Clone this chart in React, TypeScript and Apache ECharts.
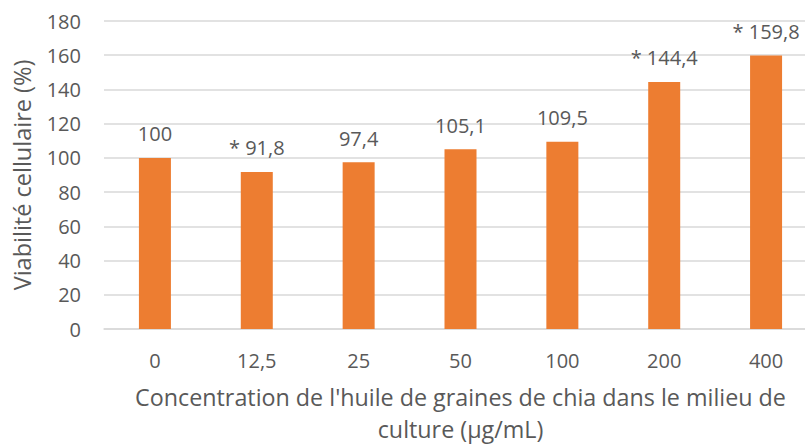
import React, { useEffect, useRef } from "react";
import * as echarts from "echarts";

const categories = ["0", "12,5", "25", "50", "100", "200", "400"];
const viability = [100, 91.8, 97.4, 105.1, 109.5, 144.4, 159.8];
const significant = [false, true, false, false, false, true, true];
const yTicks = { min: 0, max: 180, interval: 20 };
const xTitle = "Concentration de l'huile de graines de chia dans le milieu de\nculture (µg/mL)";
const yTitle = "Viabilité cellulaire (%)";

const FONT = "'Open Sans', sans-serif";
const TXT = "#595959";

export default function App() {
  const ref = useRef<HTMLDivElement>(null);
  useEffect(() => {
    if (!ref.current) return;
    document.body.style.margin = "0";
    document.body.style.overflow = "hidden";
    const chart = echarts.init(ref.current, undefined, { renderer: "svg" });
    chart.setOption({
      animation: false,
      backgroundColor: "#ffffff",
      grid: {
        left: 104,
        right: -12,
        top: 21,
        bottom: 116,
        containLabel: false,
        outerBoundsMode: "none",
      },
      xAxis: {
        type: "category",
        data: categories,
        axisLine: { show: true, lineStyle: { color: "#D9D9D9", width: 1.5 } },
        axisTick: { show: false },
        axisLabel: { color: TXT, fontFamily: FONT, fontSize: 20, margin: 21 },
        name: xTitle,
        nameLocation: "middle",
        nameGap: 52,
        nameTextStyle: { color: TXT, fontFamily: FONT, fontSize: 23.3, lineHeight: 32, align: "center" },
      },
      yAxis: {
        type: "value",
        min: yTicks.min,
        max: yTicks.max,
        interval: yTicks.interval,
        axisLine: { show: false },
        axisTick: { show: false },
        splitLine: { lineStyle: { color: "#D9D9D9", width: 1.5 } },
        axisLabel: { color: TXT, fontFamily: FONT, fontSize: 20, margin: 23 },
        name: yTitle,
        nameLocation: "middle",
        nameGap: 70,
        nameTextStyle: { color: TXT, fontFamily: FONT, fontSize: 23.5 },
      },
      series: [
        {
          type: "bar",
          data: viability,
          barWidth: 32,
          itemStyle: { color: "#ED7D31" },
          label: {
            show: true,
            position: "top",
            distance: 14,
            color: TXT,
            fontFamily: FONT,
            fontSize: 20,
            formatter: (p: any) =>
              (significant[p.dataIndex] ? "* " : "") + String(p.value).replace(".", ","),
          },
        },
      ],
    });
    return () => chart.dispose();
  }, []);
  return (
    <div
      ref={ref}
      style={{ position: "fixed", left: 0, top: 0, width: 805, height: 445, overflow: "hidden" }}
    />
  );
}
